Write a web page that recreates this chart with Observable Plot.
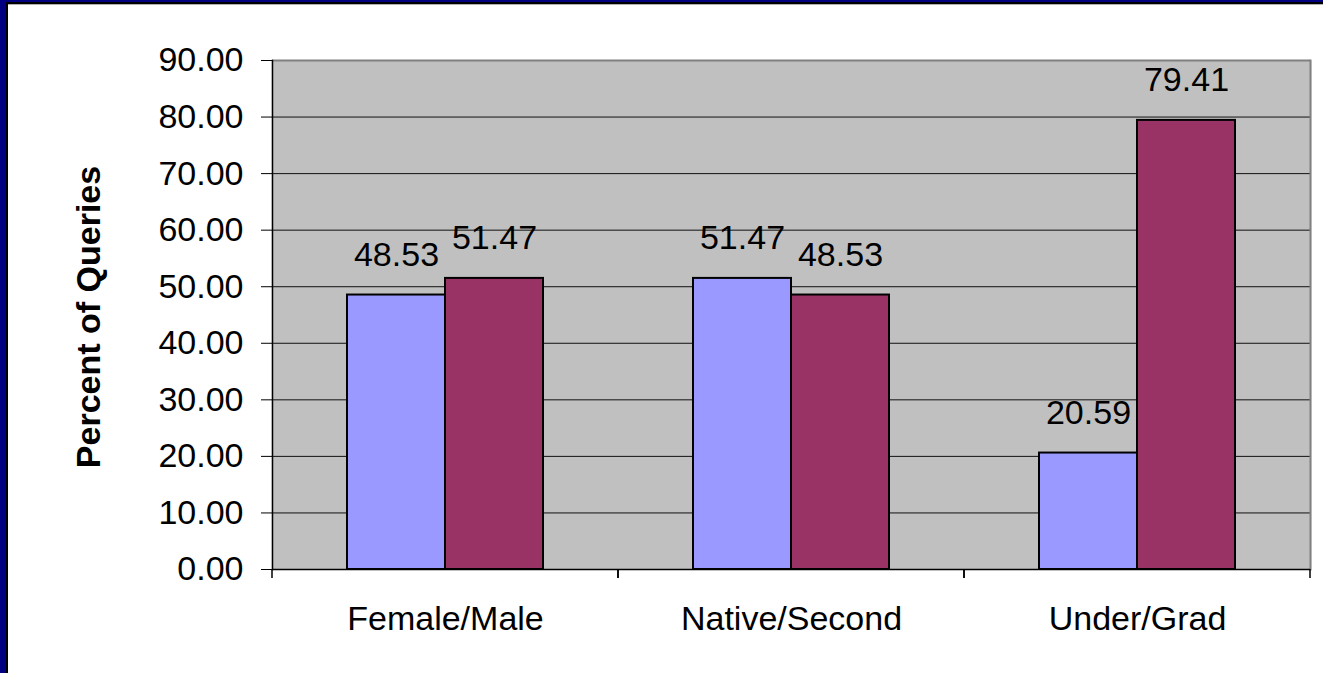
<!DOCTYPE html>
<html>
<head>
<meta charset="utf-8">
<script src="https://cdn.jsdelivr.net/npm/d3@7"></script>
<script src="https://cdn.jsdelivr.net/npm/@observablehq/plot@0.6"></script>
<style>
  html, body { margin: 0; padding: 0; background: #fff; }
  #wrap { position: relative; width: 1323px; height: 673px; overflow: hidden; background: #fff; }
  .b { position: absolute; }
  #chart { position: absolute; left: 0; top: 0; }
</style>
</head>
<body>
<div id="wrap">
  <div class="b" style="left:0;top:0;width:6px;height:673px;background:#000080"></div>
  <div class="b" style="left:0;top:0;width:1323px;height:2px;background:#000080"></div>
  <div class="b" style="left:6px;top:2px;width:2px;height:671px;background:#000"></div>
  <div class="b" style="left:6px;top:2px;width:1317px;height:2px;background:#000"></div>
  <div class="b" style="left:8px;top:4px;width:1315px;height:1px;background:#b0b0b0"></div>
  <div id="chart"></div>
</div>
<script>
const categories = ["Female/Male", "Native/Second", "Under/Grad"];
const seriesNames = ["First", "Second"];
const firstValues = [48.53, 51.47, 20.59];
const secondValues = [51.47, 48.53, 79.41];
const yTicks = [0, 10, 20, 30, 40, 50, 60, 70, 80, 90];
const yTitle = "Percent of Queries";

const data = categories.flatMap((c, i) => [
  {category: c, series: seriesNames[0], value: firstValues[i]},
  {category: c, series: seriesNames[1], value: secondValues[i]}
]);

const FONT = "'Liberation Sans', Arial, sans-serif";

function boundaryTicks(index, scales, values, dimensions) {
  const {width, height, marginLeft, marginRight, marginBottom} = dimensions;
  const g = d3.create("svg:g").attr("stroke", "black").attr("stroke-width", 1.5);
  for (const x of [marginLeft, width - marginRight]) {
    g.append("line")
      .attr("x1", x).attr("x2", x)
      .attr("y1", height - marginBottom)
      .attr("y2", height - marginBottom + 9);
  }
  return g.node();
}

const plot = Plot.plot({
  width: 1323,
  height: 673,
  marginTop: 60,
  marginBottom: 104,
  marginLeft: 272,
  marginRight: 13,
  style: {fontFamily: FONT, fontSize: "34px", background: "transparent", color: "black", overflow: "visible"},
  fx: {domain: categories, padding: 0, label: null},
  x: {domain: seriesNames, paddingInner: 0, paddingOuter: 0.765, axis: null},
  y: {domain: [0, 90], label: null},
  color: {domain: seriesNames, range: ["#9999FF", "#993366"]},
  marks: [
    Plot.frame({fill: "#C0C0C0", insetLeft: -0.75, insetRight: -0.75}),
    Plot.ruleY(yTicks.filter(d => d > 0 && d < 90), {stroke: "#111", strokeWidth: 1}),
    Plot.ruleY([90], {stroke: "#808080", strokeWidth: 2}),
    Plot.frame({anchor: "right", stroke: "#808080", strokeWidth: 2, facetAnchor: "right"}),
    Plot.barY(data, {fx: "category", x: "series", y: "value", fill: "series", stroke: "black", strokeWidth: 2}),
    Plot.text(data, {fx: "category", x: "series", y: "value", text: d => d.value.toFixed(2), dy: -29, lineAnchor: "bottom", fontSize: 34, fill: "black"}),
    Plot.ruleY([0], {stroke: "black", strokeWidth: 1.5}),
    Plot.frame({anchor: "left", stroke: "black", strokeWidth: 1.5, facetAnchor: "left"}),
    boundaryTicks,
    Plot.axisY({ticks: yTicks, tickFormat: d => d.toFixed(2), tickSize: 11, tickPadding: 18, fontSize: 34, label: null, stroke: "black"}),
    Plot.axisFx({anchor: "bottom", tickSize: 0, tickPadding: 36, fontSize: 34, label: null}),
    Plot.text([yTitle], {frameAnchor: "left", textAnchor: "middle", rotate: -90, dx: -183, dy: 2, fontSize: 34, fontWeight: "bold", fill: "black", facetAnchor: "left"})
  ]
});
document.getElementById("chart").appendChild(plot);
</script>
</body>
</html>
